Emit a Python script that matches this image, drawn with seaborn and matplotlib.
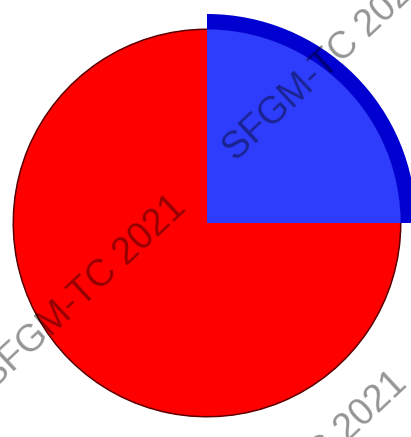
import matplotlib
matplotlib.use("Agg")
import matplotlib.pyplot as plt
import seaborn as sns

# data
categories = ["Blue", "Red"]
shares = [25, 75]
watermark = "SFGM-TC 2021"

sns.set_theme(style="white")
plt.rcParams['font.family'] = ['Liberation Sans', 'DejaVu Sans']

fill_colors = sns.color_palette(["#2e3dfb", "#ff0000"])
ring_colors = ["#0000d0", "none"]
edge_colors = ["none", "#5a0000"]

W, H = 411, 437
fig = plt.figure(figsize=(W / 100, H / 100), dpi=100)
ax = fig.add_axes([0, 0, 1, 1])

cx, cy, r = 207, H - 223, 194

ax.pie(shares, colors=fill_colors, startangle=0, counterclock=True,
       center=(cx, cy), radius=r, wedgeprops=dict(linewidth=0, edgecolor="none"))
# thin dark outline on red arc
ax.pie(shares, colors=edge_colors, startangle=0, counterclock=True,
       center=(cx, cy), radius=r + 0.5, wedgeprops=dict(width=1.5, linewidth=0))
# thick dark-blue arc on blue wedge
ax.pie(shares, colors=ring_colors, startangle=0, counterclock=True,
       center=(cx, cy), radius=r + 15, wedgeprops=dict(width=15.5, linewidth=0))

ax.set_xlim(0, W)
ax.set_ylim(0, H)
ax.set_aspect("equal")
ax.axis("off")

for (x, y) in [(84, H - 292), (326, H - 64), (305, H - 468)]:
    ax.text(x, y, watermark, rotation=43, rotation_mode="anchor",
            ha="center", va="center", fontsize=27, color="black", alpha=0.42)

fig.savefig("out.png", dpi=100)
